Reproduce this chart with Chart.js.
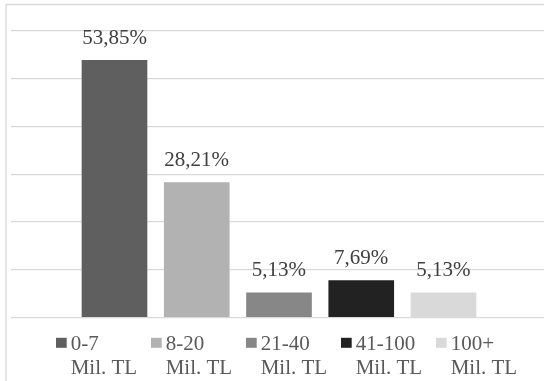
<!DOCTYPE html>
<html>
<head>
<meta charset="utf-8">
<script src="https://cdn.jsdelivr.net/npm/chart.js@4/dist/chart.umd.min.js"></script>
<style>
  html, body { margin: 0; padding: 0; background: #fff; overflow: hidden; }
  #mainCanvas { display: block; }
</style>
</head>
<body>
<canvas id="mainCanvas" width="544" height="381" style="width:544px;height:381px"></canvas>
<script>
const categories = ['0-7', '8-20', '21-40', '41-100', '100+'];
const unitLine = 'Mil. TL';
const shares = [53.85, 28.21, 5.13, 7.69, 5.13];
const barColors = ['#5f5f5f', '#b2b2b2', '#878787', '#222222', '#d9d9d9'];
const yTicks = [0, 10, 20, 30, 40, 50, 60];

const serif = '"Liberation Serif", "Times New Roman", serif';
let ctx = document.getElementById('mainCanvas').getContext('2d');

// one dataset per range so every bar gets its own legend entry
const datasets = categories.map((cat, i) => ({
    label: cat,
    data: [{ x: i, y: shares[i] }],
    backgroundColor: barColors[i],
    barThickness: 65,
    grouped: false,
}));

// thin grey frame round the chart (only left and top show in the crop)
const framePlugin = {
    id: 'frame',
    beforeDraw(chart) {
        const c = chart.ctx;
        c.save();
        c.strokeStyle = '#d9d9d9';
        c.lineWidth = 1.3;
        c.beginPath();
        c.moveTo(6, chart.height);
        c.lineTo(6, 4.5);
        c.lineTo(chart.width, 4.5);
        c.stroke();
        c.restore();
    }
};

// percent labels above the bars
const valueLabels = {
    id: 'valueLabels',
    afterDatasetsDraw(chart) {
        const c = chart.ctx;
        c.save();
        c.font = '21px ' + serif;
        c.fillStyle = '#404040';
        c.textAlign = 'center';
        c.textBaseline = 'alphabetic';
        chart.data.datasets.forEach((ds, i) => {
            const bar = chart.getDatasetMeta(i).data[0];
            const txt = ds.data[0].y.toFixed(2).replace('.', ',') + '%';
            c.fillText(txt, bar.x, bar.y - 16.5);
        });
        c.restore();
    }
};

// two line legend under the plot
const bottomLegend = {
    id: 'bottomLegend',
    afterDraw(chart) {
        const c = chart.ctx;
        c.save();
        c.font = '21px ' + serif;
        const box = 10.7, gap = 4, pitch = 95;
        let x = 56;
        const top = chart.chartArea.bottom + 20.5;
        categories.forEach((cat, i) => {
            c.fillStyle = barColors[i];
            c.fillRect(x, top, box, 10);
            c.fillStyle = '#595959';
            c.textAlign = 'left';
            c.textBaseline = 'alphabetic';
            c.fillText(cat, x + box + gap, top + 11.8);
            c.fillText(unitLine, x + box + gap, top + 35.8);
            x += pitch;
        });
        c.restore();
    }
};

function drawChart() {
    window.myChart = new Chart(ctx, {
        type: 'bar',
        data: { datasets: datasets },
        options: {
            responsive: false,
            devicePixelRatio: 1,
            animation: false,
            layout: { padding: { left: 11.3, right: 0, top: 31, bottom: 63.7 } },
            plugins: {
                legend: { display: false },
                tooltip: { enabled: false },
            },
            scales: {
                x: {
                    type: 'linear',
                    display: false,
                    offset: false,
                    min: -1.2547,
                    max: 5.222,
                },
                y: {
                    min: yTicks[0],
                    max: yTicks[yTicks.length - 1],
                    ticks: { display: false, stepSize: 10 },
                    grid: { color: '#d9d9d9', lineWidth: 1.3, drawTicks: false },
                    border: { display: false },
                },
            },
        },
        plugins: [framePlugin, valueLabels, bottomLegend],
    });
}

document.fonts.load('21px "Liberation Serif"').then(drawChart, drawChart);
</script>
</body>
</html>
